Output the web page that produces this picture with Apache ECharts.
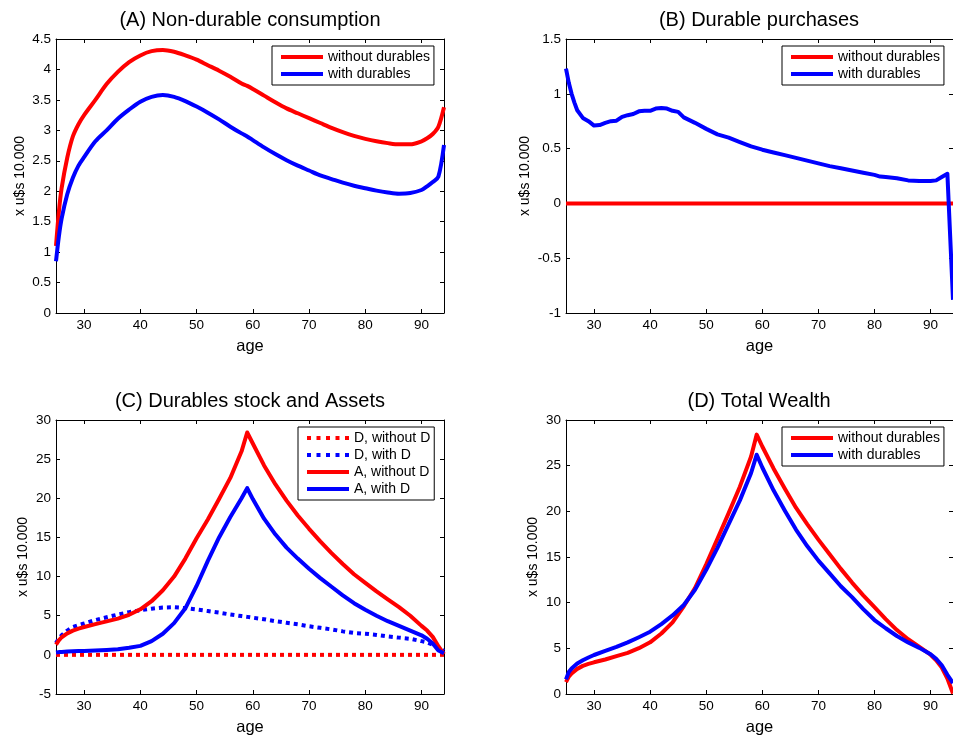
<!DOCTYPE html>
<html><head><meta charset="utf-8">
<script src="https://cdn.jsdelivr.net/npm/echarts@6/dist/echarts.min.js"></script>
<style>html,body{margin:0;padding:0;background:#fff}#c{width:953px;height:740px}</style>
</head><body><div id="c"></div>
<script>
// ---------- DATA ----------
const ages = [25,25.5,26,27,28,29,30,32,34,36,38,40,42,44,46,48,50,52,54,56,58,59,60,62,64,66,68,70,72,74,76,78,80,82,84,86,88,90,91,92,93,94];

// (A) Non-durable consumption
const aWithout = [1.1,1.65,2.05,2.55,2.9,3.1,3.25,3.5,3.76,3.96,4.12,4.23,4.3,4.32,4.29,4.23,4.16,4.07,3.98,3.88,3.77,3.73,3.68,3.57,3.46,3.36,3.28,3.2,3.12,3.04,2.97,2.91,2.86,2.82,2.79,2.77,2.77,2.82,2.87,2.94,3.06,3.38];
const aWith = [0.85,1.25,1.55,1.95,2.22,2.42,2.56,2.82,3.0,3.19,3.34,3.47,3.55,3.58,3.55,3.48,3.39,3.29,3.18,3.06,2.95,2.9,2.84,2.72,2.61,2.51,2.42,2.34,2.26,2.2,2.14,2.09,2.05,2.01,1.98,1.96,1.97,2.02,2.08,2.15,2.24,2.76];

// (B) Durable purchases
const bAges = [25,25.5,26,26.5,27,28,29,30,31,32,33,34,35,36,37,38,39,40,41,42,43,44,45,46,47,48,50,52,54,56,58,60,62,64,66,68,70,72,74,76,78,80,81,82,84,86,88,90,91,92,93,94];
const bWith = [1.23,1.1,1.0,0.92,0.85,0.78,0.75,0.71,0.715,0.735,0.75,0.755,0.79,0.805,0.815,0.84,0.845,0.845,0.865,0.87,0.865,0.845,0.835,0.785,0.76,0.735,0.68,0.63,0.6,0.56,0.52,0.49,0.465,0.44,0.415,0.39,0.365,0.34,0.32,0.3,0.28,0.26,0.245,0.24,0.23,0.21,0.205,0.205,0.21,0.24,0.27,-0.88];
const flatAges = [25,94];
const bWithout = [0,0];

// (C) Durables stock and Assets
const cDWithout = [0,0];
const cDWith = [1.5,2.1,2.5,3.1,3.55,3.8,4.0,4.45,4.8,5.15,5.45,5.7,5.9,6.05,6.08,5.98,5.8,5.6,5.4,5.15,4.95,4.85,4.75,4.55,4.3,4.1,3.9,3.65,3.45,3.25,3.0,2.8,2.7,2.55,2.35,2.2,2.05,1.75,1.6,1.3,0.9,0.5];
const cAWithout = [1.3,1.85,2.25,2.75,3.1,3.35,3.56,3.92,4.27,4.63,5.12,5.82,6.85,8.25,10.0,12.3,14.9,17.3,19.9,22.6,26.0,28.4,27.0,24.2,21.8,19.7,17.8,16.1,14.5,13.0,11.6,10.3,9.2,8.1,7.1,6.1,5.0,3.7,3.1,2.3,1.1,0.1];
const cAWith = [0.3,0.35,0.38,0.42,0.45,0.48,0.5,0.57,0.63,0.72,0.9,1.15,1.75,2.7,4.05,5.95,8.8,12.0,15.0,17.6,20.0,21.3,19.9,17.4,15.4,13.7,12.3,11.0,9.8,8.7,7.6,6.6,5.75,5.0,4.3,3.7,3.1,2.5,2.05,1.45,0.55,0.2];

// (D) Total Wealth
const dWithout = [1.3,1.9,2.25,2.75,3.08,3.3,3.47,3.78,4.15,4.5,5.02,5.66,6.62,7.85,9.6,11.6,14.2,17.0,19.8,22.7,26.0,28.4,27.1,24.7,22.5,20.4,18.6,16.9,15.3,13.7,12.2,10.8,9.5,8.2,7.0,6.0,5.15,4.3,3.7,2.9,1.7,0.05];
const dWith = [1.6,2.4,2.8,3.35,3.7,4.0,4.27,4.72,5.15,5.65,6.22,6.82,7.65,8.6,9.75,11.4,13.6,16.0,18.6,21.2,24.2,26.2,24.8,22.3,20.1,18.0,16.2,14.6,13.2,11.8,10.6,9.3,8.1,7.2,6.35,5.65,5.05,4.35,3.85,3.15,2.1,1.2];

const titles = ['(A) Non-durable consumption','(B) Durable purchases','(C) Durables stock and Assets','(D) Total Wealth'];
const yRanges = [[0,4.5,0.5],[-1,1.5,0.5],[-5,30,5],[0,30,5]];
const xName = 'age';
const yName = 'x u$s 10.000';

// ---------- LAYOUT ----------
const FONT = '"Liberation Sans", Arial, Helvetica, sans-serif';
const RED = '#ff0000', BLUE = '#0000ff';
const grids = [
  {left:56, top:39, width:388, height:274},
  {left:566, top:39, width:387, height:274},
  {left:56, top:420, width:388, height:274},
  {left:566, top:420, width:387, height:274}
];
const yNameGaps = [28.5, 34, 26, 26];
const titleTops = [10, 10, 391, 391];
const titleCenters = [250, 759, 250, 759];
const smoothBy = [0.3, 0, 0, 0];

const xAxes = [], yAxes = [];
grids.forEach((g, i) => {
  [false, true].forEach(top => {
    xAxes.push({
      type:'value', gridIndex:i, min:25, max:94, splitNumber:7, position: top ? 'top' : 'bottom',
      name: top ? '' : xName, nameLocation:'middle', nameGap:25,
      nameTextStyle:{fontSize:16.5, color:'#000', fontFamily:FONT},
      axisLine:{show:true, onZero:false, lineStyle:{color:'#000', width:1}},
      axisTick:{show:true, inside:true, length:4, lineStyle:{color:'#000'}},
      axisLabel:{show:!top, color:'#000', fontSize:13.5, fontFamily:FONT, margin:5,
        showMinLabel:false, showMaxLabel:false, formatter: v => (v % 10 === 0 ? String(v) : '')},
      splitLine:{show:false}
    });
    const r = yRanges[i];
    yAxes.push({
      type:'value', gridIndex:i, min:r[0], max:r[1], interval:r[2], position: top ? 'right' : 'left',
      name: top ? '' : yName, nameLocation:'middle', nameGap:yNameGaps[i],
      nameTextStyle:{fontSize:14, color:'#000', fontFamily:FONT},
      axisLine:{show:true, onZero:false, lineStyle:{color:'#000', width:1}},
      axisTick:{show:true, inside:true, length:4, lineStyle:{color:'#000'}},
      axisLabel:{show:!top, color:'#000', fontSize:13.5, fontFamily:FONT, margin:5},
      splitLine:{show:false}
    });
  });
});

const pair = (xs, ys) => xs.map((x, k) => [x, ys[k]]);
function line(name, gi, xs, ys, color, dotted) {
  return {
    type:'line', name, xAxisIndex: gi*2, yAxisIndex: gi*2, data: pair(xs, ys),
    symbol:'none', showSymbol:false, smooth: smoothBy[gi] || false, animation:false, silent:true,
    lineStyle:{color, width:4, type: dotted ? [4,4] : 'solid', cap:'butt', join:'round'},
    itemStyle:{color}
  };
}
const series = [
  line('without durables', 0, ages, aWithout, RED),
  line('with durables', 0, ages, aWith, BLUE),
  line('without durables', 1, flatAges, bWithout, RED),
  line('with durables', 1, bAges, bWith, BLUE),
  line('D, without D', 2, flatAges, cDWithout, RED, true),
  line('D, with D', 2, ages, cDWith, BLUE, true),
  line('A, without D', 2, ages, cAWithout, RED),
  line('A, with D', 2, ages, cAWith, BLUE),
  line('without durables', 3, ages, dWithout, RED),
  line('with durables', 3, ages, dWith, BLUE)
];

const SOLID = 'path://M0,0L42,0L42,4L0,4Z';
const DOTS = 'path://M0,0h4v4h-4zM9.5,0h4v4h-4zM19,0h4v4h-4zM28.5,0h4v4h-4zM38,0h4v4h-4z';
function legend(names, icons, left, top) {
  return {
    orient:'vertical', left, top, padding:[4,4,4,9], itemGap:3, itemWidth:42, itemHeight:4,
    borderColor:'#000', borderWidth:1, backgroundColor:'#fff', selectedMode:false,
    itemStyle:{borderWidth:0},
    textStyle:{fontSize:14, color:'#000', fontFamily:FONT, lineHeight:14, padding:0},
    data: names.map((n, k) => ({name:n, icon:icons[k]}))
  };
}

const option = {
  animation:false,
  backgroundColor:'#fff',
  title: titles.map((t, i) => ({
    text:t, left:titleCenters[i], top:titleTops[i], textAlign:'center', padding:0,
    textStyle:{fontSize:20, fontWeight:'normal', color:'#000', fontFamily:FONT}
  })),
  grid: grids.map(g => Object.assign({containLabel:false}, g)),
  xAxis: xAxes,
  yAxis: yAxes,
  legend: [
    legend(['without durables','with durables'], [SOLID,SOLID], 272, 46),
    legend(['without durables','with durables'], [SOLID,SOLID], 782, 46),
    legend(['D, without D','D, with D','A, without D','A, with D'], [DOTS,DOTS,SOLID,SOLID], 298, 427),
    legend(['without durables','with durables'], [SOLID,SOLID], 782, 427)
  ],
  series
};
const chart = echarts.init(document.getElementById('c'), null, {renderer:'canvas'});
chart.setOption(option);
</script>
</body></html>
